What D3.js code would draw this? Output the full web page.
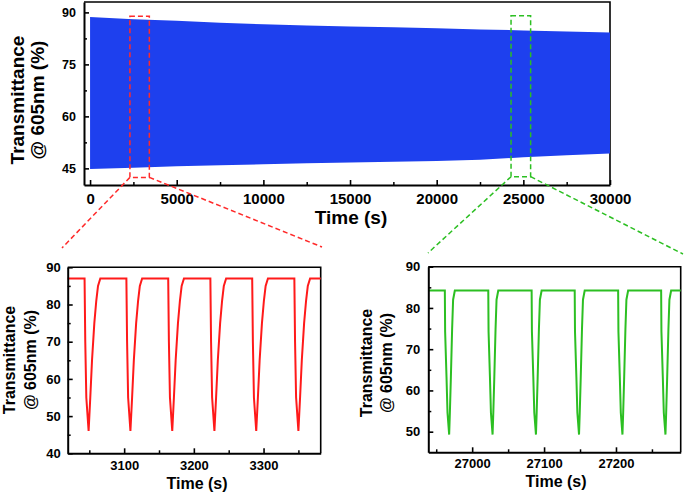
<!DOCTYPE html>
<html>
<head>
<meta charset="utf-8">
<script src="https://cdn.jsdelivr.net/npm/d3@7"></script>
<style>
  html, body { margin: 0; padding: 0; background: #fff; }
  svg { display: block; font-family: "Liberation Sans", Arial, sans-serif; }
  text { font-weight: bold; fill: #000; }
</style>
</head>
<body>
<svg id="chart" width="685" height="494"></svg>
<script>
// ---------- DATA ----------
// Top panel: envelope of the cycling transmittance (max / min per cycle)
const envTime   = [0, 2500, 5000, 7500, 10000, 12500, 15000, 17500, 20000, 22500, 25000, 27500, 30000];
const envTop    = [88.7, 88.0, 87.6, 87.0, 86.6, 86.2, 85.9, 85.7, 85.4, 85.1, 84.8, 84.5, 84.2];
const envBottom = [44.8, 45.2, 45.6, 45.9, 46.2, 46.5, 46.7, 46.9, 47.1, 47.5, 48.2, 48.8, 49.3];
const topXTicks = [0, 5000, 10000, 15000, 20000, 25000, 30000];
const topYTicks = [45, 60, 75, 90];
const redBox   = [2300, 3420];     // zoom window on top panel (s)
const greenBox = [24290, 25420];

// Bottom-left panel (red, around 3000 s)
const redTime = [3019,
  3043.2, 3044.2, 3045.7, 3049, 3051.4, 3053.9, 3057.2, 3060, 3062.5, 3065.8,
  3103.2, 3104.2, 3105.7, 3109, 3111.4, 3113.9, 3117.2, 3120, 3122.5, 3125.8,
  3163.2, 3164.2, 3165.7, 3169, 3171.4, 3173.9, 3177.2, 3180, 3182.5, 3185.8,
  3223.7, 3224.7, 3226.2, 3229.5, 3231.9, 3234.4, 3237.7, 3240.5, 3243, 3246.3,
  3283.7, 3284.7, 3286.2, 3289.5, 3291.9, 3294.4, 3297.7, 3300.5, 3303, 3306.3,
  3344.2, 3345.2, 3346.7, 3350, 3352.4, 3354.9, 3358.2, 3361, 3363.5, 3366.8,
  3382];
const redValue = [87,
  87, 70, 55, 46, 55, 65, 75, 81, 85, 87,
  87, 70, 55, 46, 55, 65, 75, 81, 85, 87,
  87, 70, 55, 46, 55, 65, 75, 81, 85, 87,
  87, 70, 55, 46, 55, 65, 75, 81, 85, 87,
  87, 70, 55, 46, 55, 65, 75, 81, 85, 87,
  87, 70, 55, 46, 55, 65, 75, 81, 85, 87,
  87];
const redXTicks = [3100, 3200, 3300];
const redYTicks = [40, 50, 60, 70, 80, 90];

// Bottom-right panel (green, around 27000 s)
const greenTime = [26939,
  26962, 26962.4, 26964.3, 26965.7, 26968, 26969, 26970.3, 26972.1, 26973.5, 26975.9,
  27022.4, 27022.8, 27024.7, 27026.1, 27028.4, 27029.4, 27030.7, 27032.5, 27033.9, 27036.3,
  27082.7, 27083.1, 27085, 27086.4, 27088.7, 27089.7, 27091, 27092.8, 27094.2, 27096.6,
  27142.6, 27143, 27144.9, 27146.3, 27148.6, 27149.6, 27150.9, 27152.7, 27154.1, 27156.5,
  27203, 27203.4, 27205.3, 27206.7, 27209, 27210, 27211.3, 27213.1, 27214.5, 27216.9,
  27262.8, 27263.2, 27265.1, 27266.5, 27268.8, 27269.8, 27271.1, 27272.9, 27274.3, 27276.7,
  27290];
const greenValue = [84.2,
  84.2, 74.3, 63.4, 54.6, 49.3, 54.6, 62.6, 74.7, 82, 84.2,
  84.2, 74.3, 63.4, 54.6, 49.3, 54.6, 62.6, 74.7, 82, 84.2,
  84.2, 74.3, 63.4, 54.6, 49.3, 54.6, 62.6, 74.7, 82, 84.2,
  84.2, 74.3, 63.4, 54.6, 49.3, 54.6, 62.6, 74.7, 82, 84.2,
  84.2, 74.3, 63.4, 54.6, 49.3, 54.6, 62.6, 74.7, 82, 84.2,
  84.2, 74.3, 63.4, 54.6, 49.3, 54.6, 62.6, 74.7, 82, 84.2,
  84.2];
const greenXTicks = [27000, 27100, 27200];
const greenYTicks = [50, 60, 70, 80, 90];

const yTitle1 = "Transmittance";
const yTitle2 = "@ 605nm (%)";
const xTitle = "Time (s)";

// ---------- DRAW ----------
const svg = d3.select("#chart");

function panel(o) {
  const g = svg.append("g");
  const x = d3.scaleLinear().domain(o.xDomain).range([o.left, o.right]);
  const y = d3.scaleLinear().domain(o.yDomain).range([o.bottom, o.top]);

  // frame (top & right)
  g.append("path")
    .attr("d", `M${o.left},${o.top}H${o.right}V${o.bottom}`)
    .attr("fill", "none").attr("stroke", "#000").attr("stroke-width", 1.6);

  o.draw(g, x, y);

  // minor ticks
  const minorX = o.xMinor.filter(v => v > o.xDomain[0] && v < o.xDomain[1]);
  const minorY = o.yMinor.filter(v => v > o.yDomain[0] && v < o.yDomain[1]);
  g.append("g").attr("transform", `translate(0,${o.bottom})`)
    .call(d3.axisBottom(x).tickValues(minorX).tickFormat("").tickSize(-3).tickSizeOuter(0))
    .call(a => a.select(".domain").remove())
    .selectAll("line").attr("stroke-width", 1.5);
  g.append("g").attr("transform", `translate(${o.left},0)`)
    .call(d3.axisLeft(y).tickValues(minorY).tickFormat("").tickSize(-3).tickSizeOuter(0))
    .call(a => a.select(".domain").remove())
    .selectAll("line").attr("stroke-width", 1.5);

  // major axes
  const ax = g.append("g").attr("transform", `translate(0,${o.bottom})`)
    .call(d3.axisBottom(x).tickValues(o.xTicks).tickFormat(d3.format("d"))
      .tickSize(-5).tickSizeOuter(0).tickPadding(o.xPad));
  ax.select(".domain").attr("stroke-width", 2);
  ax.selectAll("line").attr("stroke-width", 1.6);
  ax.selectAll("text").attr("font-size", o.xFont).attr("font-weight", "bold")
    .attr("font-family", "Liberation Sans, Arial, sans-serif");

  const ay = g.append("g").attr("transform", `translate(${o.left},0)`)
    .call(d3.axisLeft(y).tickValues(o.yTicks).tickFormat(d3.format("d"))
      .tickSize(-5).tickSizeOuter(0).tickPadding(o.yPad));
  ay.select(".domain").attr("stroke-width", 2);
  ay.selectAll("line").attr("stroke-width", 1.6);
  ay.selectAll("text").attr("font-size", o.yFont).attr("font-weight", "bold")
    .attr("font-family", "Liberation Sans, Arial, sans-serif");

  // titles
  g.append("text").attr("x", o.xTitleX).attr("y", o.xTitleY)
    .attr("text-anchor", "middle").attr("font-size", o.titleFont).text(xTitle);
  g.append("text").attr("transform", `translate(${o.yT1x},${o.yTy}) rotate(-90)`)
    .attr("text-anchor", "middle").attr("font-size", o.titleFont).text(yTitle1);
  g.append("text").attr("transform", `translate(${o.yT2x},${o.yTy}) rotate(-90)`)
    .attr("text-anchor", "middle").attr("font-size", o.titleFont).text(yTitle2);

  return {x, y};
}

// Top panel
const envData = envTime.map((t, i) => ({t, hi: envTop[i], lo: envBottom[i]}));
const topP = panel({
  left: 84, right: 610, top: 2, bottom: 185,
  xDomain: [-350, 30000], yDomain: [40.2, 93],
  xTicks: topXTicks, yTicks: topYTicks,
  xMinor: d3.range(2500, 30000, 5000), yMinor: [52.5, 67.5, 82.5],
  xPad: 8, yPad: 8, xFont: 15, yFont: 12.5, titleFont: 19,
  xTitleX: 351, xTitleY: 224, yT1x: 24, yT2x: 44, yTy: 100,
  draw: (g, x, y) => {
    g.append("path").datum(envData)
      .attr("d", d3.area().x(d => x(d.t)).y0(d => y(d.lo)).y1(d => y(d.hi)))
      .attr("fill", "#1e40ee");
  }
});

// Bottom-left panel
const redData = redTime.map((t, i) => ({t, v: redValue[i]}));
const L = panel({
  left: 67.7, right: 320.7, top: 267.3, bottom: 453.3,
  xDomain: [3019, 3382], yDomain: [40, 90],
  xTicks: redXTicks, yTicks: redYTicks,
  xMinor: [3050, 3150, 3250, 3350], yMinor: [45, 55, 65, 75, 85],
  xPad: 7, yPad: 7, xFont: 13, yFont: 13, titleFont: 16,
  xTitleX: 197, xTitleY: 489, yT1x: 15, yT2x: 36, yTy: 360,
  draw: (g, x, y) => {
    g.append("path").datum(redData)
      .attr("d", d3.line().x(d => x(d.t)).y(d => y(d.v)))
      .attr("fill", "none").attr("stroke", "#ff1a1a").attr("stroke-width", 2);
  }
});

// Bottom-right panel
const greenData = greenTime.map((t, i) => ({t, v: greenValue[i]}));
const R = panel({
  left: 428.3, right: 680.7, top: 266.7, bottom: 452.3,
  xDomain: [26939, 27290], yDomain: [45, 90],
  xTicks: greenXTicks, yTicks: greenYTicks,
  xMinor: [26950, 27050, 27150, 27250], yMinor: [55, 65, 75, 85],
  xPad: 6, yPad: 8, xFont: 13, yFont: 13, titleFont: 16,
  xTitleX: 556, xTitleY: 487, yT1x: 372, yT2x: 392, yTy: 363,
  draw: (g, x, y) => {
    g.append("path").datum(greenData)
      .attr("d", d3.line().x(d => x(d.t)).y(d => y(d.v)))
      .attr("fill", "none").attr("stroke", "#2cbf22").attr("stroke-width", 2);
  }
});

// zoom boxes and connectors
function zoomBox(range, yr, color, target) {
  const x0 = topP.x(range[0]), x1 = topP.x(range[1]);
  const y0 = topP.y(yr[1]), y1 = topP.y(yr[0]);
  const dash = "5,3";
  svg.append("rect").attr("x", x0).attr("y", y0).attr("width", x1 - x0).attr("height", y1 - y0)
    .attr("fill", "none").attr("stroke", color).attr("stroke-width", 1.5).attr("stroke-dasharray", dash);
  svg.append("line").attr("x1", x0).attr("y1", y1).attr("x2", target[0][0]).attr("y2", target[0][1])
    .attr("stroke", color).attr("stroke-width", 1.5).attr("stroke-dasharray", dash);
  svg.append("line").attr("x1", x1).attr("y1", y1).attr("x2", target[1][0]).attr("y2", target[1][1])
    .attr("stroke", color).attr("stroke-width", 1.5).attr("stroke-dasharray", dash);
}
zoomBox(redBox, [42.4, 88.9], "#ff2a2a", [[62, 248], [322, 247]]);
zoomBox(greenBox, [42.6, 89.0], "#2cbf22", [[428, 253], [683, 254]]);
</script>
</body>
</html>
